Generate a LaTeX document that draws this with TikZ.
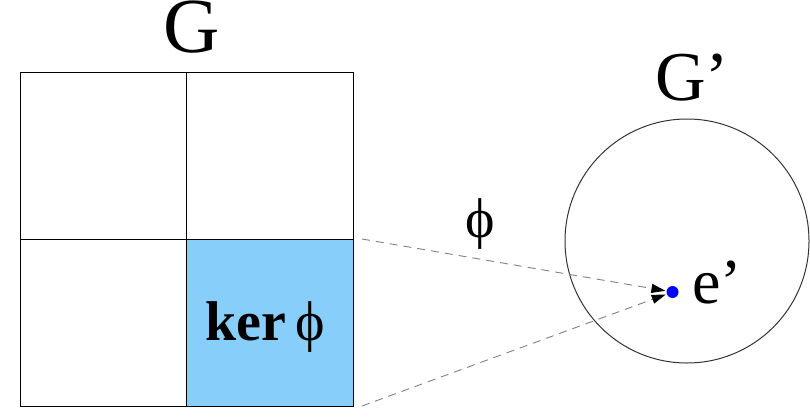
\documentclass[tikz,border=0pt]{standalone}
\usepackage{fontspec}
\setmainfont{Liberation Serif}
\usetikzlibrary{positioning, arrows.meta, calc}
\definecolor{kerblue}{RGB}{135,206,250}

\begin{document}
\begin{tikzpicture}[
        x=1pt, y=-1pt,
        cell/.style={draw, line width=0.9pt, minimum width=166.5pt, minimum height=167pt, inner sep=0pt, outer sep=0pt},
        lbl/.style={inner sep=0pt, anchor=base west, font=\fontsize{#1}{#1}\selectfont},
        lbl/.default=70,
        map/.style={-{Triangle[length=14pt, width=9pt, black]}, dashed, dash pattern=on 8pt off 6pt, gray, line width=0.9pt, shorten >=1pt},
    ]
    \useasboundingbox (0,0) rectangle (810,417);

    % Group G
    \node[cell] (tl) at (103.25,155.5) {};
    \node[cell] (tr) at (269.75,155.5) {};
    \node[cell] (bl) at (103.25,322.5) {};
    \node[cell, fill=kerblue] (br) at (269.75,322.5) {};
    \node[lbl=78] (g) at (163,53) {G};
    \node[lbl=56] (ker) at (205,340) {\textbf{ker}\,ϕ};

    % Group G'
    \node[draw, circle, line width=1pt, black!80, minimum size=244pt, inner sep=0pt] (gp) at (687,241) {};
    \node[lbl=70] (gplbl) at (655,101) {G'};
    \node[circle, fill=blue, inner sep=0pt, minimum size=12pt] (e) at (672.5,292) {};
    \node[lbl=64] (elbl) at (692,303) {e'};

    % Map phi
    \coordinate (a1) at ([xshift=9pt]br.north east);
    \coordinate (a2) at ([xshift=9pt]br.south east);
    \draw[map] (a1) -- (e);
    \draw[map] (a2) -- (e);
    \node[inner sep=0pt, anchor=south, font=\fontsize{56}{56}\selectfont] (phi) at (480,250) {ϕ};
\end{tikzpicture}
\end{document}
